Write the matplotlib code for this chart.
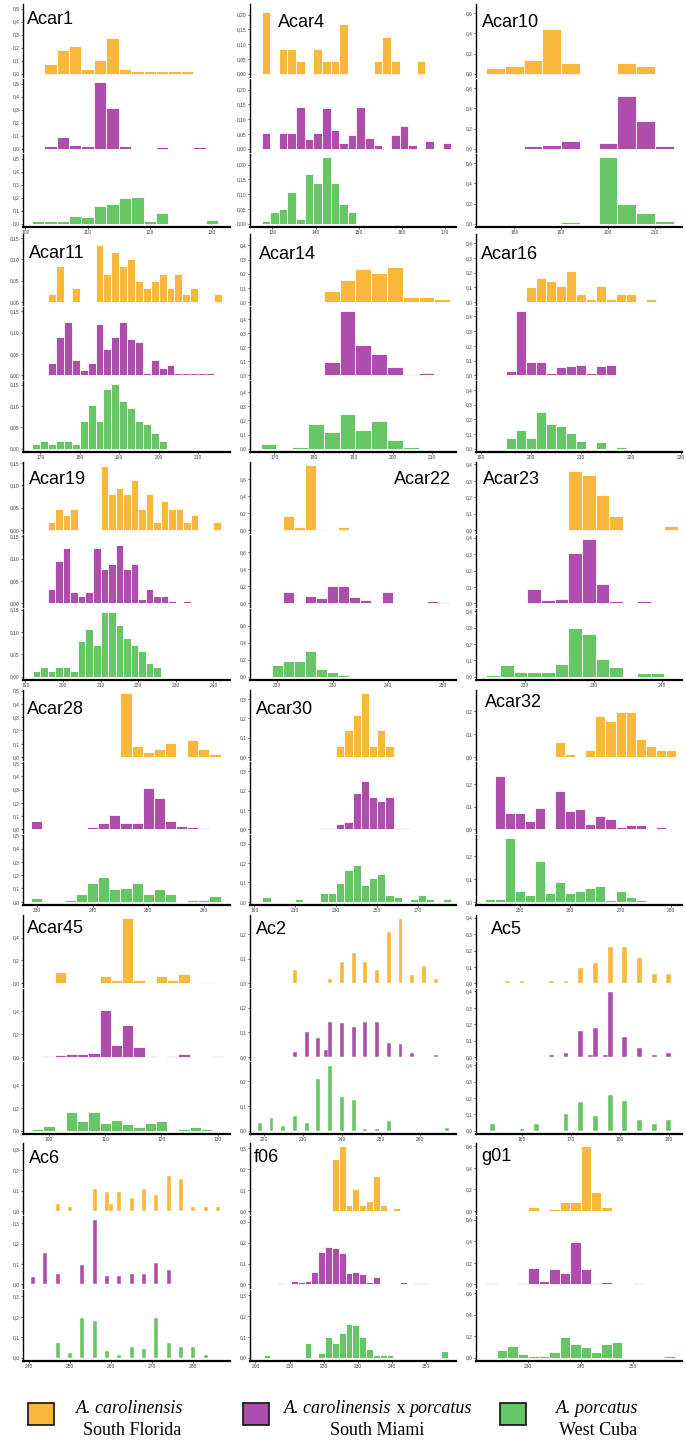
import numpy as np
import matplotlib
matplotlib.use("Agg")
import matplotlib.pyplot as plt
from matplotlib.patches import Rectangle

plt.rcParams["font.family"] = ["Liberation Sans", "DejaVu Sans"]

# цвета популяций
ORANGE = "#F8B83B"
PURPLE = "#AE4DAC"
GREEN = "#66C564"

# частоты аллелей: South Florida / South Miami / West Cuba
acar1_orange = [0, .075, .18, .215, .035, .105, .275, .035, .02, .02, .02, .02, .02]
acar1_purple = [0, .02, .09, .026, .02, .51, .315, .02, 0, 0, .01, 0, 0, .01]
acar1_green = [.02, .02, .02, .06, .052, .137, .155, .2, .207, .02, .083, 0, 0, 0, .028]

acar4_orange = [.21, 0, .085, .085, .043, 0, .085, .043, .043, .17, 0, 0, 0, .043, .125, .043, 0, 0, .043]
acar4_purple = [.052, 0, .052, .052, .14, .033, .052, .137, .063, .02, .045, .14, .037, .012, 0, .045,
                .078, .012, 0, .027, 0, .02]
acar4_green = [.01, .04, .05, .108, .017, .167, .137, .225, .137, .068, .04]

acar10_orange = [.053, .08, .14, .44, .11, 0, 0, .11, .08]
acar10_purple = [0, 0, .027, .037, .077, 0, .053, .527, .277, .027]
acar10_green = [0, 0, 0, 0, .02, 0, .66, .2, .11, .03]

acar11_orange = [0, 0, .018, .085, 0, .034, 0, 0, .134, .067, .117, .084, .1, .05, .034, .05, .066, .034,
                 .066, .018, .034, 0, 0, .018]
acar11_purple = [0, 0, .028, .091, .125, .036, .012, .028, .12, .063, .091, .125, .085, .079, .005, .036,
                 .018, .024, .005, .005, .005, .005, .005]
acar11_green = [.011, .019, .011, .019, .019, .011, .066, .102, .066, .14, .152, .112, .095, .066, .057,
                .037, .019]

acar14_orange = [0, 0, 0, 0, .081, .158, .237, .207, .251, .033, .033, .019]
acar14_purple = [0, 0, 0, 0, .093, .458, .212, .149, .058, .012, .016, .005]
acar14_green = [.033, 0, .012, .172, .121, .247, .135, .198, .065, .012]

acar16_orange = [0, 0, 0, 0, .1, .165, .145, .11, .21, .053, .018, .11, .018, .053, .053, 0, .018]
acar16_purple = [.005, 0, .03, .44, .09, .09, .015, .057, .063, .07, .015, .062, .07, 0, .005, .005, 0,
                 .005, .005]
acar16_green = [0, 0, .07, .13, .07, .25, .17, .155, .105, .05, 0, .045, 0, .01]

acar19_orange = [0, 0, .017, .048, .033, .048, 0, 0, 0, .144, .08, .095, .08, .111, .048, .08, .017, .064,
                 .048, .048, .017, .033, 0, 0, .017]
acar19_purple = [0, 0, .033, .094, .125, .026, .016, .026, .125, .078, .089, .13, .078, .089, .01, .033,
                 .016, .016, .006, 0, .006]
acar19_green = [.012, .021, .012, .021, .021, .012, .079, .107, .07, .145, .145, .116, .087, .07, .058,
                .03, .021]

acar22_orange = [0, 0, .17, .032, .76, .015, 0, .032]
acar22_purple = [0, .008, .13, .008, .085, .06, .2, .2, .07, .035, .008, .13, .008, 0, .008, .023, .015]
acar22_green = [.008, .14, .19, .19, .3, .092, .056, .02, .008]

acar23_orange = [0, 0, 0, 0, 0, 0, .36, .337, .216, .086, 0, 0, 0, .024]
acar23_purple = [0, 0, 0, .088, .02, .026, .31, .395, .116, .014, 0, .014, .004]
acar23_green = [.01, .07, .028, .028, .028, .077, .3, .258, .107, .058, 0, .022, .022]

acar28_orange = [0, 0, 0, 0, 0, 0, 0, 0, .48, .087, .042, .064, .109, 0, .131, .064, .02]
acar28_purple = [.065, 0, 0, .005, .005, .02, .048, .107, .048, .048, .315, .233, .063, .025, .018, .01]
acar28_green = [.03, 0, 0, .012, .056, .144, .188, .093, .107, .144, .056, .093, .056, 0, .012, .012, .041]

acar30_orange = [0, 0, 0, 0, 0, 0, 0, 0, 0, .06, .14, .22, .33, .06, .14, .06]
acar30_purple = [0, 0, 0, 0, 0, 0, 0, .009, .009, .03, .039, .187, .25, .167, .145, .167, .009, .009]
acar30_green = [.023, 0, 0, 0, .013, 0, 0, .043, .043, .098, .163, .188, .088, .123, .143, .033, .023, 0,
                .013, .033, .013, 0, .013]

acar32_orange = [0, 0, 0, 0, 0, 0, 0, .065, .015, 0, .033, .179, .16, .197, .197, .079, .047, .033, .033]
acar32_purple = [0, .232, .074, .074, .035, .096, 0, .17, .079, .088, .022, .061, .044, .013, .018, .018,
                 0, .009]
acar32_green = [.012, .012, .28, .049, .03, .18, .04, .087, .04, .049, .062, .07, .01, .049, .02, .01]

acar45_orange = [0, 0, .099, 0, 0, 0, .064, .029, .568, .029, .012, .064, .029, .081, 0, .012]
acar45_purple = [0, .006, .014, .026, .026, .032, .414, .101, .284, .084, .006, 0, .006, .023, 0, 0, .006]
acar45_green = [.017, .043, .009, .163, .086, .163, .069, .094, .06, .034, .069, .086, 0, .017, .034, .017]

ac2_alleles = [219, 222, 225, 228, 231, 234, 236, 237, 240, 243, 246, 249, 252, 255, 258, 261, 264, 267]
ac2_orange = [0, 0, 0, .055, 0, 0, 0, .018, .086, .123, .086, .054, .208, .26, .034, .07, .018, 0]
ac2_purple = [0, 0, 0, .019, .1, .076, .028, .14, .136, .122, .14, .14, .057, .051, .015, 0, .008, 0]
ac2_green = [.032, .053, .02, .061, .032, .21, 0, .263, .138, .126, .008, .008, .04, 0, 0, 0, 0, .01]

ac5_alleles = [154, 157, 160, 163, 166, 169, 172, 174, 175, 177, 178, 181, 184, 187, 190]
ac5_orange = [0, .013, .013, 0, .013, .013, .096, 0, .125, 0, .22, .22, .155, .06, .06]
ac5_purple = [0, 0, 0, 0, .015, .026, .157, .015, .178, .015, .397, .12, .054, .015, .026]
ac5_green = [.043, 0, .011, .04, 0, .1, .175, 0, .088, 0, .215, .18, .068, .043, .068]

ac6_alleles = [241, 244, 247, 250, 253, 256, 259, 260, 262, 265, 268, 271, 274, 277, 280, 283, 286]
ac6_orange = [0, 0, .037, .019, 0, .11, .093, .037, .095, .064, .11, .08, .171, .156, .019, .019, .019]
ac6_purple = [.037, .156, .049, 0, .095, .317, .039, 0, .039, .049, .049, .105, .07, 0, 0, 0, 0]
ac6_green = [0, 0, .07, .024, .192, .181, .034, 0, .015, .054, .044, .192, .07, .054, .054, .014, 0]

f06_orange = [0, 0, 0, 0, 0, 0, 0, 0, 0, 0, .25, .31, .029, .106, .029, .048, .17, .029, 0, .016]
f06_purple = [0, 0, .007, 0, .016, .011, .016, .06, .153, .178, .173, .15, .056, .06, .05, .011, .036, 0,
              0, 0, .01, 0, .007, .007]
f06_green = [.013, 0, 0, 0, 0, 0, .072, 0, .023, .1, .072, .12, .163, .155, .1, .044, .013, .013, .013,
             0, 0, 0, 0, 0, 0, 0, .032]

g01_orange = [0, 0, 0, 0, .037, 0, .015, .083, .083, .6, .175, .037]
g01_purple = [.009, 0, 0, .009, .15, .03, .14, .105, .39, .14, .009, .018, 0, 0, .009]
g01_green = [0, .07, .107, .034, .015, .015, .052, .19, .126, .098, .052, .126, .145, 0, 0, 0, 0, .015]

# подписи осей
xt_acar1 = [100, 110, 120, 130]
xt_acar4 = [130, 140, 150, 160, 170]
xt_acar10 = [180, 190, 200, 210]
xt_acar11 = [170, 180, 190, 200, 210]
xt_acar14 = [170, 180, 190, 200, 210]
xt_acar16 = [190, 200, 210, 220, 230]
xt_acar19 = [190, 200, 210, 220, 230, 240]
xt_acar22 = [220, 230, 240, 250]
xt_acar23 = [220, 230, 240]
xt_acar28 = [230, 240, 250, 260]
xt_acar30 = [190, 210, 230, 250, 270]
xt_acar32 = [250, 260, 270, 280]
xt_acar45 = [100, 110, 120, 130]
xt_ac2 = [220, 230, 240, 250, 260]
xt_ac5 = [160, 170, 180, 190]
xt_ac6 = [240, 250, 260, 270, 280]
xt_f06 = [200, 210, 220, 230, 240, 250]
xt_g01 = [230, 240, 250]

yt_05 = [0.0, 0.1, 0.2, 0.3, 0.4, 0.5]
yt_04 = [0.0, 0.1, 0.2, 0.3, 0.4]
yt_03 = [0.0, 0.1, 0.2, 0.3]
yt_02 = [0.0, 0.1, 0.2]
yt_06 = [0.0, 0.2, 0.4, 0.6]
yt_04b = [0.0, 0.2, 0.4]
yt_020 = [0.0, 0.05, 0.10, 0.15, 0.20]
yt_015 = [0.0, 0.05, 0.10, 0.15]

# локус, начало первого бина (или список аллелей), ширина бина, ряды, подписи x, подписи y, пределы x
loci = [
    ("Acar1", 101, 2, [acar1_orange, acar1_purple, acar1_green], xt_acar1, yt_05, (99.6, 132.9)),
    ("Acar4", 127.5, 2, [acar4_orange, acar4_purple, acar4_green], xt_acar4, yt_020, (124.8, 172.6)),
    ("Acar10", 174, 4, [acar10_orange, acar10_purple, acar10_green], xt_acar10, yt_06, (171.8, 215.8)),
    ("Acar11", 168, 2, [acar11_orange, acar11_purple, acar11_green], xt_acar11, yt_015, (165.6, 218.1)),
    ("Acar14", 166.5, 4, [acar14_orange, acar14_purple, acar14_green], xt_acar14, yt_04, (163.8, 216)),
    ("Acar16", 191, 2, [acar16_orange, acar16_purple, acar16_green], xt_acar16, yt_04, (189.1, 230.3)),
    ("Acar19", 192, 2, [acar19_orange, acar19_purple, acar19_green], xt_acar19, yt_015, (189.4, 244.4)),
    ("Acar22", 217, 2, [acar22_orange, acar22_purple, acar22_green], xt_acar22, yt_06, (215.1, 252.3)),
    ("Acar23", 214.3, 2, [acar23_orange, acar23_purple, acar23_green], xt_acar23, yt_04, (212.8, 242.9)),
    ("Acar28", 229, 2, [acar28_orange, acar28_purple, acar28_green], xt_acar28, yt_05, (227.5, 264.7)),
    ("Acar30", 194, 4, [acar30_orange, acar30_purple, acar30_green], xt_acar30, yt_03, (187.9, 288.5)),
    ("Acar32", 243, 2, [acar32_orange, acar32_purple, acar32_green], xt_acar32, yt_02, (241.3, 282.2)),
    ("Acar45", 97, 2, [acar45_orange, acar45_purple, acar45_green], xt_acar45, yt_04b, (95.4, 132.2)),
    ("Ac2", ac2_alleles, 1, [ac2_orange, ac2_purple, ac2_green], xt_ac2, yt_02, (216.5, 269.2)),
    ("Ac5", ac5_alleles, 1, [ac5_orange, ac5_purple, ac5_green], xt_ac5, yt_04, (150.6, 192.7)),
    ("Ac6", ac6_alleles, 1, [ac6_orange, ac6_purple, ac6_green], xt_ac6, yt_03, (238.6, 288.9)),
    ("f06", 202.4, 2, [f06_orange, f06_purple, f06_green], xt_f06, yt_03, (198.4, 258.7)),
    ("g01", 222, 2, [g01_orange, g01_purple, g01_green], xt_g01, yt_06, (220, 259.4)),
]

# раскладка в пикселях
W, H = 686, 1444
cols = [(23, 230), (250, 456), (476, 682)]
rows = [(4, 227), (234, 452), (462, 680), (690, 905), (915, 1134), (1143, 1361)]
gap = 2
title_pos = [(27, 24), (278, 27), (482, 27),
             (29, 258), (259, 259), (481, 259),
             (29, 484), (451, 484), (483, 484),
             (27, 714), (256, 714), (485, 707),
             (27, 933), (256, 934), (491, 934),
             (29, 1163), (254, 1162), (481, 1161)]

fig = plt.figure(figsize=(W / 100, H / 100), dpi=100)


def add_ax(left, top, width, height):
    return fig.add_axes([left / W, 1 - (top + height) / H, width / W, height / H])


def comma(v, dec):
    return f"{v:.{dec}f}".replace(".", ",")


for i, (name, start, width, series, xticks, yticks, xlim) in enumerate(loci):
    row, col = divmod(i, 3)
    left, right = cols[col]
    top, bottom = rows[row]
    h = (bottom - top - 2 * gap) / 3
    top_val = max(max(s) for s in series)
    dec = 2 if any(round(v * 100) % 10 for v in yticks) else 1

    for k, (vals, color) in enumerate(zip(series, [ORANGE, PURPLE, GREEN])):
        ax = add_ax(left, top + k * (h + gap), right - left, h)
        vals = np.asarray(vals)
        keep = vals > 0
        if isinstance(start, list):
            x = np.asarray(start)
            ax.bar(x[keep], vals[keep], width=width, align="center", color=color,
                   edgecolor="white", linewidth=0.3)
        else:
            x = start + width * np.arange(len(vals))
            ax.bar(x[keep], vals[keep], width=width, align="edge", color=color,
                   edgecolor="white", linewidth=0.6)

        ax.set_xlim(*xlim)
        ax.set_ylim(-0.05 * top_val, 1.05 * top_val)
        for s in ["top", "right"]:
            ax.spines[s].set_visible(False)
        ax.spines["left"].set_linewidth(1.0)
        ax.set_yticks(yticks)
        ax.set_yticklabels([comma(v, dec) for v in yticks])
        ax.tick_params(labelsize=3.5, length=1.5, width=0.4, pad=0.8, labelcolor="#444444")

        if k < 2:
            ax.spines["bottom"].set_visible(False)
            ax.set_xticks([])
        else:
            ax.spines["bottom"].set_linewidth(1.6)
            ax.set_xticks(xticks)
            ax.set_xticklabels([str(v) for v in xticks])

    tx, ty = title_pos[i]
    fig.text(tx / W, 1 - ty / H, name, fontsize=13, ha="right" if name == "Acar22" else "left",
             va="baseline", family="Liberation Sans")

# легенда
swatches = [(28, ORANGE), (243, PURPLE), (500, GREEN)]
for x0, color in swatches:
    fig.add_artist(Rectangle((x0 / W, 1 - 1425 / H), 26 / W, 22 / H, transform=fig.transFigure,
                             facecolor=color, edgecolor="#111111", linewidth=1.2))

serif = "Liberation Serif"
fig.text(130 / W, 1 - 1413 / H, "A. carolinensis", fontsize=13, style="italic", family=serif,
         ha="center", va="baseline")
fig.text(132 / W, 1 - 1435 / H, "South Florida", fontsize=13, family=serif, ha="center", va="baseline")
fig.text(377 / W, 1 - 1435 / H, "South Miami", fontsize=13, family=serif, ha="center", va="baseline")
fig.text(597 / W, 1 - 1413 / H, "A. porcatus", fontsize=13, style="italic", family=serif,
         ha="center", va="baseline")
fig.text(598 / W, 1 - 1435 / H, "West Cuba", fontsize=13, family=serif, ha="center", va="baseline")

# смешанная строка: курсив + обычный шрифт, собираем по кускам
parts = [("A. carolinensis", "italic"), (" x ", "normal"), ("porcatus", "italic")]
renderer = fig.canvas.get_renderer()
pieces = [fig.text(0, 1 - 1413 / H, s, fontsize=13, style=st, family=serif, ha="left", va="baseline")
          for s, st in parts]
widths = [t.get_window_extent(renderer).width for t in pieces]
x_px = 378 - sum(widths) / 2
for t, w in zip(pieces, widths):
    t.set_x(x_px / W)
    x_px += w

fig.savefig("out.png", dpi=100)
